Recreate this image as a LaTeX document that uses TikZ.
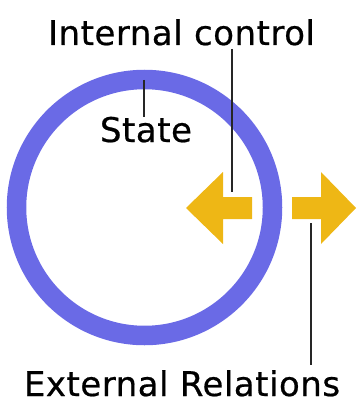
\documentclass[tikz,border=0pt]{standalone}
\usepackage{fontspec}
\setmainfont{DejaVu Sans}[LetterSpace=1.5,FakeBold=0.6]
\definecolor{ringblue}{HTML}{6A6AE6}
\definecolor{arrowgold}{HTML}{EEB715}
\begin{document}
\begin{tikzpicture}[x=1pt,y=-1pt,
  lbl/.style={anchor=base,inner sep=0pt,font=\fontsize{34}{40}\selectfont},
  leader/.style={draw=black!85,line width=1.3pt},
  goldarrow/.style={fill=arrowgold,draw=none}]
\useasboundingbox (0,0) rectangle (356,401);
% ring
\draw[ringblue,line width=19.5pt] (144.5,207.5) circle[radius=128];
% arrows
\path[goldarrow] (186,208) -- (223,172) -- (223,197) -- (252,197) -- (252,219) -- (223,219) -- (223,244) -- cycle;
\path[goldarrow] (292,197) -- (321,197) -- (321,172) -- (356,208) -- (321,244) -- (321,219) -- (292,219) -- cycle;
% labels
\node[lbl] (ic) at (181.5,45) {Internal control};
\node[lbl] (st) at (146,142) {State};
\node[lbl] (er) at (182,396) {External Relations};
% leader end points
\coordinate (icA) at (232,49);
\coordinate (icB) at (232,192);
\coordinate (stA) at (144,80);
\coordinate (stB) at (144,117);
\coordinate (erA) at (311,223);
\coordinate (erB) at (311,365);
\draw[leader] (icA) -- (icB);
\draw[leader] (stA) -- (stB);
\draw[leader] (erA) -- (erB);
\end{tikzpicture}
\end{document}
